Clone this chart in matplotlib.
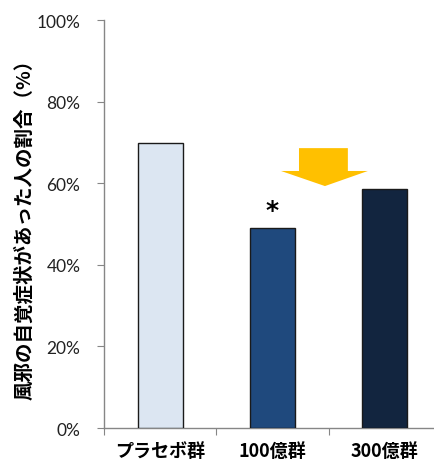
import matplotlib.pyplot as plt
from matplotlib.patches import Polygon
from matplotlib.ticker import FuncFormatter

plt.rcParams['font.family'] = ['Noto Sans CJK JP', 'DejaVu Sans']

groups = ['プラセボ群', '100億群', '300億群']
rates = [69.8, 49.0, 58.7]
colors = ['#DCE6F2', '#1F497D', '#12253F']
yticks = [0, 20, 40, 60, 80, 100]

fig = plt.figure(figsize=(4.34, 4.64), dpi=100)
ax = fig.add_axes([0.2396, 0.0754, 0.7765, 0.8793])

x = list(range(len(groups)))
ax.bar(x, rates, width=0.4, color=colors, edgecolor='#1a1a1a', linewidth=1.0, zorder=3)

ax.set_xlim(-0.5, 2.5)
ax.set_ylim(0, 100)
ax.set_yticks(yticks)
ax.yaxis.set_major_formatter(FuncFormatter(lambda v, p: f'{v:.0f}%'))
for lab in ax.get_yticklabels():
    lab.set_family('Lato')
    lab.set_fontsize(12.5)
    lab.set_color('#222222')

# x ticks at category boundaries, labels at centers
ax.set_xticks([-0.5, 0.5, 1.5, 2.5])
ax.set_xticklabels([])
ax.set_xticks(x, minor=True)
ax.set_xticklabels(groups, minor=True, fontsize=13, fontweight='bold')
ax.tick_params(axis='x', which='minor', length=0, pad=9)
ax.tick_params(axis='x', which='major', length=5, color='#868686', direction='out')
ax.tick_params(axis='y', length=5, color='#868686', direction='out', pad=12)

for s in ['top', 'right']:
    ax.spines[s].set_visible(False)
for s in ['left', 'bottom']:
    ax.spines[s].set_color('#868686')
    ax.spines[s].set_linewidth(1.0)

ax.set_ylabel('風邪の自覚症状があった人の割合（%）', fontsize=14, fontweight='bold')
ax.yaxis.set_label_coords(-0.208, 0.5)

# significance mark
ax.text(1, rates[1] + 1.5, '*', ha='center', va='bottom', fontsize=18, fontweight='bold',
        family='DejaVu Sans')

# yellow arrow
arrow = Polygon([(1.236, 68.6), (1.671, 68.6), (1.671, 63.0), (1.849, 63.0),
                 (1.467, 59.3), (1.076, 63.0), (1.236, 63.0)],
                closed=True, facecolor='#FFC000', edgecolor='none', zorder=4)
ax.add_patch(arrow)

fig.savefig('out.png', dpi=100)
